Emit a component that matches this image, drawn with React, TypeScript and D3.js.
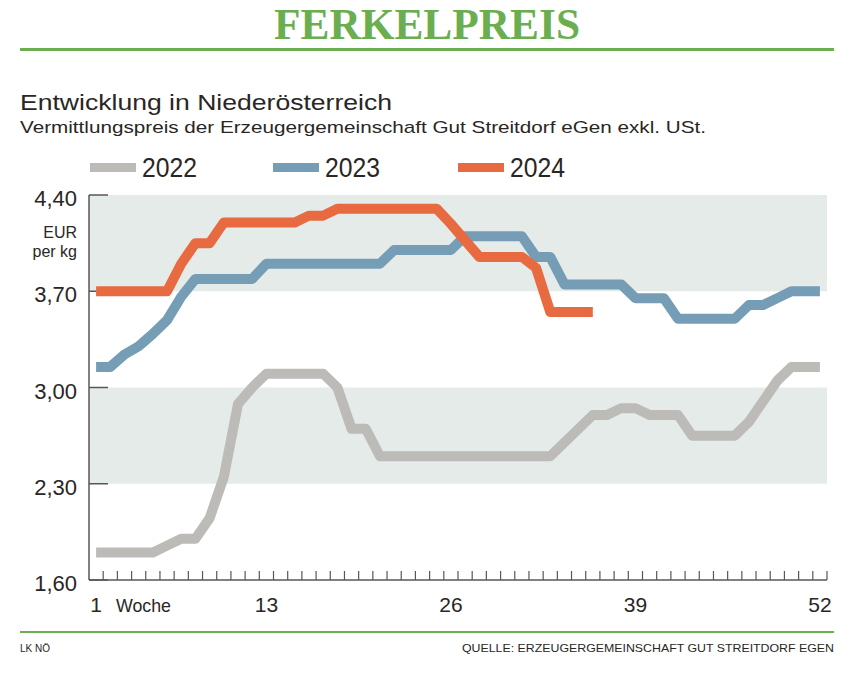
import * as d3 from 'd3';

const weeks = d3.range(1, 53);

// Ferkelpreis EUR per kg, Woche 1..52
const values2022 = [
  1.80, 1.80, 1.80, 1.80, 1.80, 1.85, 1.90, 1.90, 2.05, 2.35,
  2.88, 3.00, 3.10, 3.10, 3.10, 3.10, 3.10, 3.00, 2.70, 2.70,
  2.50, 2.50, 2.50, 2.50, 2.50, 2.50, 2.50, 2.50, 2.50, 2.50,
  2.50, 2.50, 2.50, 2.60, 2.70, 2.80, 2.80, 2.85, 2.85, 2.80,
  2.80, 2.80, 2.65, 2.65, 2.65, 2.65, 2.75, 2.90, 3.05, 3.15,
  3.15, 3.15,
];
const values2023 = [
  3.15, 3.15, 3.24, 3.30, 3.39, 3.49, 3.66, 3.79, 3.79, 3.79,
  3.79, 3.79, 3.90, 3.90, 3.90, 3.90, 3.90, 3.90, 3.90, 3.90,
  3.90, 4.00, 4.00, 4.00, 4.00, 4.00, 4.10, 4.10, 4.10, 4.10,
  4.10, 3.95, 3.95, 3.75, 3.75, 3.75, 3.75, 3.75, 3.65, 3.65,
  3.65, 3.50, 3.50, 3.50, 3.50, 3.50, 3.60, 3.60, 3.65, 3.70,
  3.70, 3.70,
];
const values2024 = [
  3.70, 3.70, 3.70, 3.70, 3.70, 3.70, 3.90, 4.05, 4.05, 4.20,
  4.20, 4.20, 4.20, 4.20, 4.20, 4.25, 4.25, 4.30, 4.30, 4.30,
  4.30, 4.30, 4.30, 4.30, 4.30, 4.19, 4.07, 3.95, 3.95, 3.95,
  3.95, 3.87, 3.55, 3.55, 3.55, 3.55,
];

const yTicks = [1.6, 2.3, 3.0, 3.7, 4.4];
const shadedBands = [[2.3, 3.0], [3.7, 4.4]];
const xLabelWeeks = [1, 13, 26, 39, 52];

const series = [
  { name: '2022', values: values2022, color: '#bdbbb8' },
  { name: '2023', values: values2023, color: '#759db6' },
  { name: '2024', values: values2024, color: '#e86a41' },
];

const green = '#6aae4f';
const ink = '#2a2624';
const font = "'Liberation Sans', Arial, sans-serif";

export default function App() {
  const width = 854;
  const height = 681;

  const x = d3.scaleBand<number>().domain(weeks).range([89, 827]);
  const bw = x.bandwidth();
  const cx = (w: number) => (x(w) ?? 0) + bw / 2;
  const y = d3.scaleLinear().domain([1.6, 4.4]).range([580, 195]);

  const line = d3
    .line<number>()
    .x((_, i) => cx(weeks[i]))
    .y((d) => y(d));

  const fmt = (v: number) => v.toFixed(2).replace('.', ',');

  const legendX = [90, 273, 458];

  return (
    <svg
      width={width}
      height={height}
      style={{ position: 'absolute', left: 0, top: 0, background: '#fff' }}
      fontFamily={font}
    >
      {/* title */}
      <text
        x={427}
        y={39}
        textAnchor="middle"
        fontFamily="'Liberation Serif', 'DejaVu Serif', serif"
        fontWeight="bold"
        fontSize={44}
        fill={green}
        textLength={306}
        lengthAdjust="spacingAndGlyphs"
      >
        FERKELPREIS
      </text>
      <rect x={20} y={48} width={814} height={3} fill={green} />

      <text x={20} y={110} fontSize={22} fill={ink} textLength={372} lengthAdjust="spacingAndGlyphs">
        Entwicklung in Niederösterreich
      </text>
      <text x={20} y={133} fontSize={17} fill={ink} textLength={686} lengthAdjust="spacingAndGlyphs">
        Vermittlungspreis der Erzeugergemeinschaft Gut Streitdorf eGen exkl. USt.
      </text>

      {/* legend */}
      {series.map((s, i) => (
        <g key={s.name}>
          <rect x={legendX[i]} y={163} width={46} height={9} fill={s.color} />
          <text x={legendX[i] + 52} y={177} fontSize={27} fill={ink} textLength={55} lengthAdjust="spacingAndGlyphs">
            {s.name}
          </text>
        </g>
      ))}

      {/* shaded bands */}
      {shadedBands.map(([lo, hi]) => (
        <rect key={lo} x={89} y={y(hi)} width={827 - 89} height={y(lo) - y(hi)} fill="#e4ebe9" />
      ))}

      {/* y axis */}
      <line x1={89} x2={89} y1={y(4.4)} y2={y(1.6)} stroke="#5a5654" strokeWidth={1.5} />
      {yTicks.map((t) => (
        <g key={t}>
          <line x1={89} x2={108} y1={y(t)} y2={y(t)} stroke="#5a5654" strokeWidth={1.5} />
          <text x={77} y={y(t) + 11} textAnchor="end" fontSize={22} fill={ink}>
            {fmt(t)}
          </text>
        </g>
      ))}
      <text x={77} y={238} textAnchor="end" fontSize={16} fill={ink}>EUR</text>
      <text x={77} y={257} textAnchor="end" fontSize={16} fill={ink}>per kg</text>

      {/* x axis */}
      <line x1={89} x2={827} y1={580} y2={580} stroke="#5a5654" strokeWidth={1.5} />
      {weeks.map((w) => (
        <line
          key={w}
          x1={(x(w) ?? 0) + bw}
          x2={(x(w) ?? 0) + bw}
          y1={571}
          y2={580}
          stroke="#5a5654"
          strokeWidth={1.2}
        />
      ))}
      {xLabelWeeks.map((w) => (
        <text key={w} x={cx(w)} y={612} textAnchor="middle" fontSize={21} fill={ink}>
          {w}
        </text>
      ))}
      <text x={116} y={612} fontSize={19} fill={ink} textLength={55} lengthAdjust="spacingAndGlyphs">
        Woche
      </text>

      {/* lines */}
      {series.map((s) => (
        <path
          key={s.name}
          d={line(s.values) ?? ''}
          fill="none"
          stroke={s.color}
          strokeWidth={10}
          strokeLinejoin="round"
        />
      ))}

      {/* footer */}
      <rect x={20} y={631} width={814} height={2} fill={green} />
      <text x={20} y={652} fontSize={11} fill={ink} textLength={30} lengthAdjust="spacingAndGlyphs">
        LK NÖ
      </text>
      <text
        x={462}
        y={652}
        fontSize={11}
        fill={ink}
        textLength={372}
        lengthAdjust="spacingAndGlyphs"
      >
        QUELLE: ERZEUGERGEMEINSCHAFT GUT STREITDORF EGEN
      </text>
    </svg>
  );
}
